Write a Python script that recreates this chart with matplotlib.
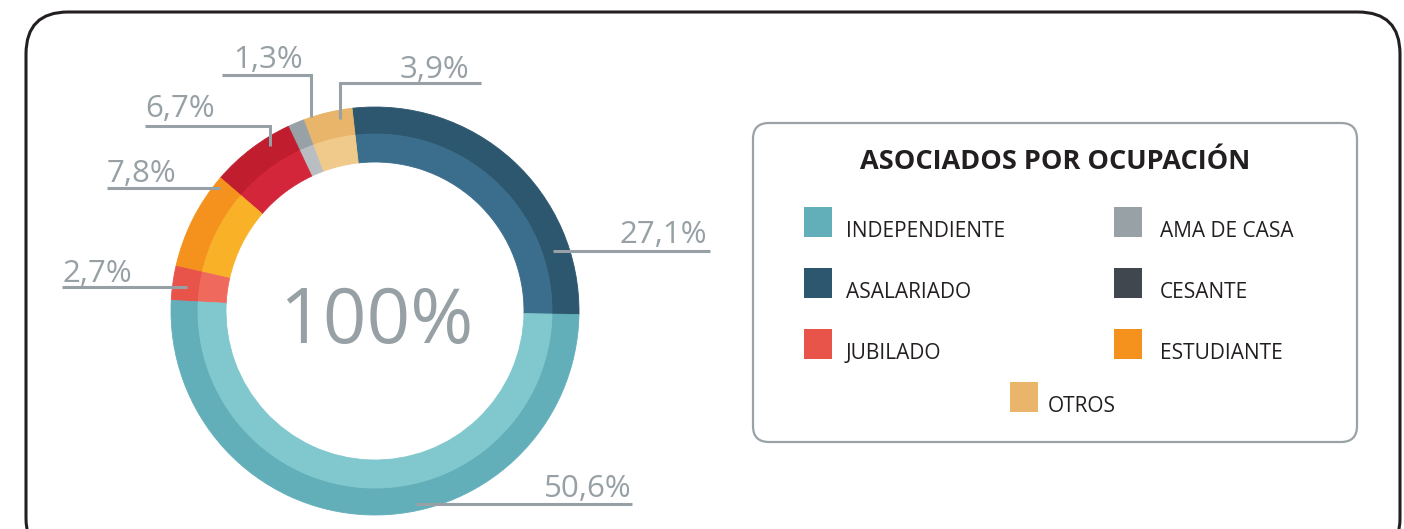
import matplotlib.pyplot as plt
from matplotlib.patches import FancyBboxPatch, Rectangle

# data, counter-clockwise from the right side of the ring
categories = ['ASALARIADO', 'OTROS', 'AMA DE CASA', 'CESANTE', 'ESTUDIANTE', 'JUBILADO', 'INDEPENDIENTE']
values = [27.1, 3.9, 1.3, 6.7, 7.8, 2.7, 50.6]
outer_colors = ['#2d566f', '#e8b56a', '#98a1a6', '#c01d2e', '#f5921e', '#e8534a', '#62afba']
inner_colors = ['#3a6e8c', '#efca8a', '#b8bec1', '#d4263a', '#f9b128', '#ef6a5d', '#80c8cd']

legend_names = ['INDEPENDIENTE', 'AMA DE CASA', 'ASALARIADO', 'CESANTE', 'JUBILADO', 'ESTUDIANTE', 'OTROS']
legend_colors = ['#62afba', '#98a1a6', '#2d566f', '#41474f', '#e8534a', '#f5921e', '#e8b56a']

W, H = 1404, 529
GRAY = '#97a1a5'
NUM_FONT = 'Open Sans'


def Y(y):
    # image pixel row -> data y
    return H - y


fig = plt.figure(figsize=(W / 100, H / 100), dpi=100)
ax = fig.add_axes([0, 0, 1, 1])

cx, cy = 375, Y(311)
wo, _ = ax.pie(values, radius=204, center=(cx, cy), startangle=-1, counterclock=True,
               colors=outer_colors, wedgeprops=dict(width=27, linewidth=0.6))
wi, _ = ax.pie(values, radius=177, center=(cx, cy), startangle=-1, counterclock=True,
               colors=inner_colors, wedgeprops=dict(width=28, linewidth=0.6))
for w in wo + wi:
    w.set_edgecolor(w.get_facecolor())

ax.set_xlim(0, W)
ax.set_ylim(0, H)
ax.set_aspect('equal')
ax.axis('off')

# outer frame
ax.add_patch(FancyBboxPatch((26, Y(560)), 1374, 548, boxstyle='round,pad=0,rounding_size=42',
                            fill=False, ec='#231f20', lw=2.2))

# centre text
ax.text(376, Y(343), '100%', ha='center', va='baseline', fontsize=55, color=GRAY,
        family=NUM_FONT)

# percentage labels with leader lines
def pct(v):
    return f'{v:.1f}'.replace('.', ',') + '%'

lab = dict(zip(categories, values))
leaders = [
    ('ASALARIADO', [(553, 251), (710, 251)], (707, 243), 'right'),
    ('INDEPENDIENTE', [(416, 504), (632, 504)], (632, 497), 'right'),
    ('JUBILADO', [(62, 287), (187, 287)], (62, 282), 'left'),
    ('ESTUDIANTE', [(107, 188), (220, 188)], (107, 182), 'left'),
    ('CESANTE', [(145, 126), (270, 126), (270, 146)], (145, 117), 'left'),
    ('AMA DE CASA', [(222, 75), (311, 75), (311, 117)], (233, 68), 'left'),
    ('OTROS', [(340, 119), (340, 83), (481, 83)], (469, 78), 'right'),
]
for name, pts, tpos, ha in leaders:
    xs = [p[0] for p in pts]
    ys = [Y(p[1]) for p in pts]
    ax.plot(xs, ys, color=GRAY, lw=2.2, solid_capstyle='butt', solid_joinstyle='miter')
    ax.text(tpos[0], Y(tpos[1]), pct(lab[name]), ha=ha, va='baseline', fontsize=22.5,
            color=GRAY, family=NUM_FONT)

# legend box
ax.add_patch(FancyBboxPatch((753, Y(442)), 604, 319, boxstyle='round,pad=0,rounding_size=16',
                            fill=False, ec='#9aa2a6', lw=1.6))
ax.text(1055, Y(169), 'ASOCIADOS POR OCUPACIÓN', ha='center', va='baseline', fontsize=19.5,
        color='#231f20', family='Open Sans', weight='bold')

rows = [207, 268, 329]
cols = [(804, 846), (1114, 1160)]
for i, (name, col) in enumerate(zip(legend_names[:6], legend_colors[:6])):
    r, c = rows[i // 2], cols[i % 2]
    ax.add_patch(Rectangle((c[0], Y(r + 30)), 28, 30, color=col, lw=0))
    ax.text(c[1], Y(r + 30), name, ha='left', va='baseline', fontsize=15,
            color='#231f20', family='Open Sans')
ax.add_patch(Rectangle((1010, Y(412)), 28, 30, color=legend_colors[6], lw=0))
ax.text(1048, Y(412), legend_names[6], ha='left', va='baseline', fontsize=15,
        color='#231f20', family='Open Sans')

fig.savefig('out.png', dpi=100, facecolor='white')
